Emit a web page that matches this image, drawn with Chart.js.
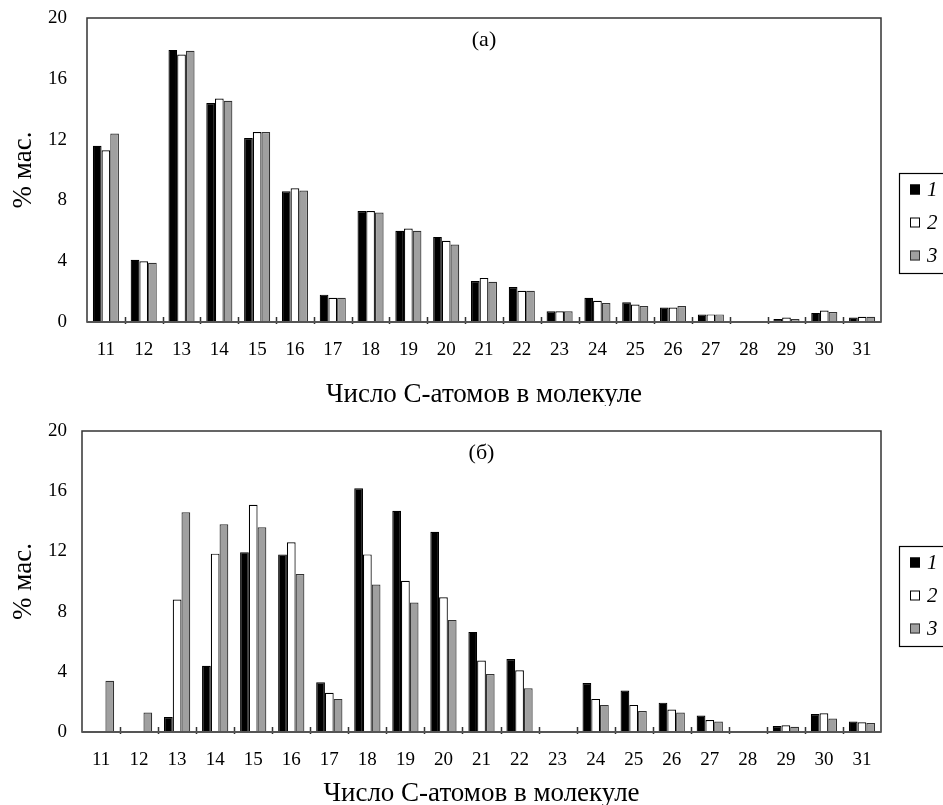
<!DOCTYPE html>
<html>
<head>
<meta charset="utf-8">
<script src="https://cdn.jsdelivr.net/npm/chart.js@4"></script>
<style>
  html, body { margin: 0; padding: 0; background: #fff; }
  #wrap { position: relative; width: 943px; height: 805px; overflow: hidden; }
  canvas { position: absolute; left: 0; }
  #chartTop { top: 0; }
  #chartBottom { top: 406px; }
</style>
</head>
<body>
<div id="wrap">
  <canvas id="chartTop" width="943" height="406"></canvas>
  <canvas id="chartBottom" width="943" height="399"></canvas>
</div>
<script>
// Число атомов углерода
const categories = ['11', '12', '13', '14', '15', '16', '17', '18', '19', '20', '21',
                    '22', '23', '24', '25', '26', '27', '28', '29', '30', '31'];
const yTicks = [0, 4, 8, 12, 16, 20];
const seriesNames = ['1', '2', '3'];

// (а)
const topS1 = [11.6, 4.1, 17.9, 14.4, 12.1, 8.6, 1.8, 7.3, 6.0, 5.6, 2.7, 2.3, 0.7, 1.6, 1.3, 0.95, 0.5, null, 0.2, 0.6, 0.3];
const topS2 = [11.3, 4.0, 17.6, 14.7, 12.5, 8.8, 1.6, 7.3, 6.15, 5.35, 2.9, 2.05, 0.7, 1.4, 1.15, 0.95, 0.5, null, 0.3, 0.75, 0.35];
const topS3 = [12.4, 3.9, 17.85, 14.55, 12.5, 8.65, 1.6, 7.2, 6.0, 5.1, 2.65, 2.05, 0.7, 1.25, 1.05, 1.05, 0.5, null, 0.2, 0.65, 0.35];

// (б)
const botS1 = [null, null, 1.0, 4.4, 11.95, 11.8, 3.3, 16.2, 14.7, 13.3, 6.65, 4.85, null, 3.25, 2.75, 1.95, 1.1, null, 0.4, 1.2, 0.7];
const botS2 = [null, null, 8.8, 11.85, 15.1, 12.6, 2.6, 11.8, 10.05, 8.95, 4.75, 4.1, null, 2.2, 1.8, 1.5, 0.8, null, 0.45, 1.25, 0.65];
const botS3 = [3.4, 1.3, 14.6, 13.8, 13.6, 10.5, 2.2, 9.8, 8.6, 7.45, 3.85, 2.9, null, 1.8, 1.4, 1.3, 0.7, null, 0.35, 0.9, 0.6];

const fills = ['#000000', '#ffffff', '#a0a0a0'];
const borders = ['#000000', '#000000', '#333333'];
const serif = '"Liberation Serif", "DejaVu Serif", serif';

// рамка, засечки между категориями, подпись панели и легенда
const framePlugin = {
    id: 'frame',
    afterDatasetsDraw(chart, args, opts) {
        const ctx = chart.ctx;
        const a = chart.chartArea;
        const x = chart.scales.x;
        ctx.save();
        ctx.strokeStyle = '#333';
        ctx.lineWidth = 1.5;
        ctx.beginPath();
        for (let i = 1; i < categories.length; i++) {
            const px = Math.round((x.getPixelForValue(i - 1) + x.getPixelForValue(i)) / 2) + 0.5;
            ctx.moveTo(px, a.bottom - 5);
            ctx.lineTo(px, a.bottom + 2);
        }
        ctx.stroke();
        ctx.strokeRect(a.left, a.top, a.right - a.left, a.bottom - a.top);
        ctx.lineWidth = 2;
        ctx.strokeStyle = '#555';
        ctx.beginPath();
        ctx.moveTo(a.left, a.bottom);
        ctx.lineTo(a.right, a.bottom);
        ctx.stroke();

        ctx.fillStyle = '#000';
        ctx.font = '22px ' + serif;
        ctx.textAlign = 'center';
        ctx.textBaseline = 'middle';
        ctx.fillText(opts.label, (a.left + a.right) / 2, a.top + 22);

        // легенда
        const lx = 899.5, ly = opts.legendTop + 0.5;
        ctx.strokeStyle = '#000';
        ctx.lineWidth = 1.2;
        ctx.strokeRect(lx, ly, 80, 100);
        ctx.font = 'italic 21px ' + serif;
        ctx.textAlign = 'left';
        seriesNames.forEach((name, i) => {
            const cy = ly + 16 + i * 33;
            ctx.fillStyle = fills[i];
            ctx.fillRect(910, cy - 5, 10, 10);
            ctx.strokeStyle = borders[i];
            ctx.lineWidth = 1;
            ctx.strokeRect(910.5, cy - 4.5, 9, 9);
            ctx.fillStyle = '#000';
            ctx.fillText(name, 927, cy + 1);
        });
        ctx.restore();
    }
};

function makeChart(id, s1, s2, s3, cfg) {
    const data = [s1, s2, s3];
    return new Chart(document.getElementById(id), {
        type: 'bar',
        data: {
            labels: categories,
            datasets: data.map((d, i) => ({
                label: seriesNames[i],
                data: d,
                backgroundColor: fills[i],
                borderColor: borders[i],
                borderWidth: 1.2,
                categoryPercentage: 0.69,
                barPercentage: 1.0
            }))
        },
        options: {
            responsive: false,
            animation: false,
            devicePixelRatio: 1,
            layout: { padding: { top: cfg.top, right: 62, left: 0, bottom: 0 } },
            plugins: {
                legend: { display: false },
                tooltip: { enabled: false },
                frame: { label: cfg.label, legendTop: cfg.legendTop }
            },
            scales: {
                x: {
                    grid: { display: false, drawTicks: false },
                    border: { display: false },
                    ticks: {
                        color: '#000',
                        padding: 17,
                        font: { family: serif, size: 19 },
                        maxRotation: 0,
                        autoSkip: false
                    },
                    title: {
                        display: true,
                        text: 'Число С-атомов в молекуле',
                        color: '#000',
                        font: { family: serif, size: 27, lineHeight: 0.85 },
                        padding: { top: 0, bottom: 0 }
                    },
                    afterFit: s => {
                        s.height = cfg.xHeight;
                        s.paddingLeft = 0;
                        s.paddingRight = 0;
                    }
                },
                y: {
                    min: 0,
                    max: 20,
                    grid: { display: false, drawTicks: false },
                    border: { display: false },
                    afterBuildTicks: s => { s.ticks = yTicks.map(v => ({ value: v })); },
                    ticks: {
                        color: '#000',
                        padding: cfg.yPad,
                        font: { family: serif, size: 19 }
                    },
                    title: {
                        display: true,
                        text: '% мас.',
                        color: '#000',
                        font: { family: serif, size: 27, lineHeight: 1 },
                        padding: { top: 10, bottom: 0 }
                    },
                    afterFit: s => {
                        s.width = cfg.yWidth;
                        s.paddingTop = 0;
                        s.paddingBottom = 0;
                    }
                }
            }
        },
        plugins: [framePlugin]
    });
}

makeChart('chartTop', topS1, topS2, topS3,
    { top: 18, xHeight: 84, yWidth: 87, yPad: 20, label: '(а)', legendTop: 173 });
makeChart('chartBottom', botS1, botS2, botS3,
    { top: 25, xHeight: 73, yWidth: 82, yPad: 15, label: '(б)', legendTop: 140 });
</script>
</body>
</html>
